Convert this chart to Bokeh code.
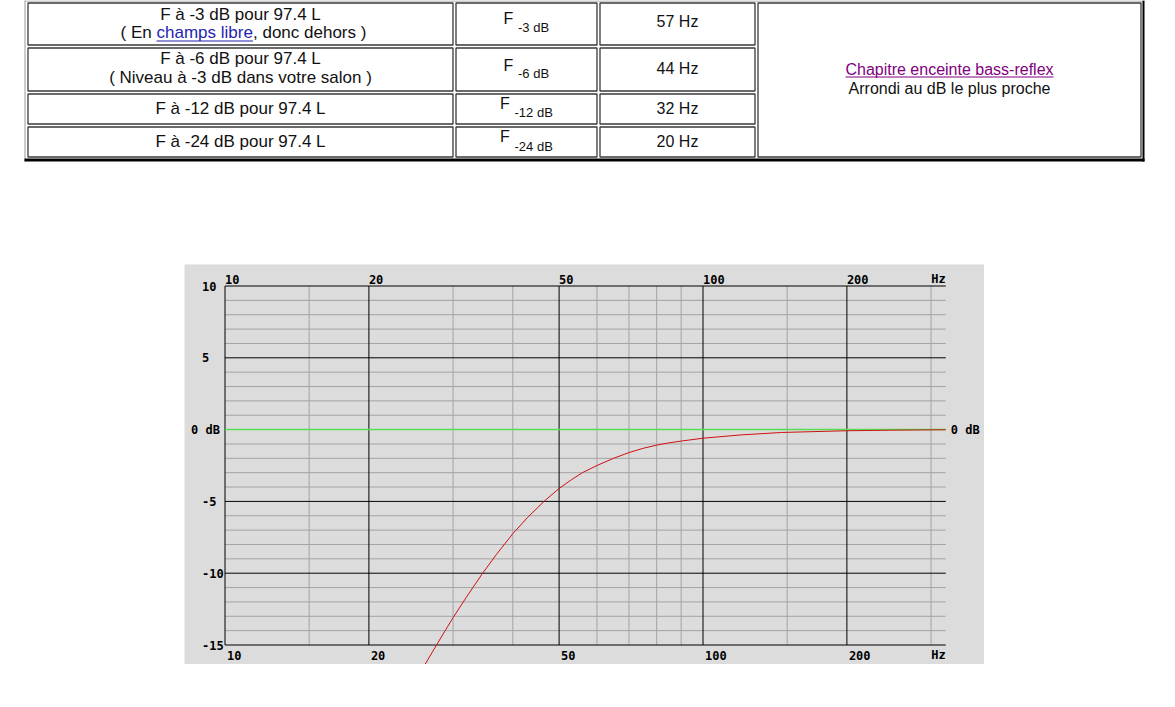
import math
from bokeh.plotting import figure
from bokeh.models import Range1d, Spacer
from bokeh.layouts import column, row
from bokeh.embed import file_html
from bokeh.resources import INLINE
from bokeh.core.properties import value

# ---------------- table data ----------------
volume_l = 97.4
levels_db = [-3, -6, -12, -24]
cutoff_hz = [57, 44, 32, 20]
note_r1 = ["( En ", "champs libre", ", donc dehors )"]
note_r2 = "( Niveau à -3 dB dans votre salon )"
link_chapter = "Chapitre enceinte bass-reflex"
note_round = "Arrondi au dB le plus proche"

# ---------------- chart data ----------------
resp_freq = [26.0, 27.7, 29.0, 30.0, 32.0, 34.6, 37.0, 40.0, 43.0, 46.7, 50.0, 53.0,
             56.0, 60.0, 65.0, 70.0, 75.0, 80.0, 85.0, 90.0, 100.0, 120.0, 146.0, 200.0,
             250.0, 322.0]
resp_db = [-16.55, -15.0, -13.9, -13.1, -11.66, -10.0, -8.68, -7.25, -6.1, -4.94, -4.1, -3.5,
           -2.99, -2.5, -2.0, -1.6, -1.3, -1.08, -0.92, -0.8, -0.6, -0.37, -0.2, -0.08,
           -0.04, -0.01]
freq_major = [10, 20, 50, 100, 200]
freq_minor = [15, 30, 40, 60, 70, 80, 90, 150, 300]
freq_labels = ["10", "20", "50", "100", "200"]
db_major = [10, 5, -5, -10, -15]
db_minor = [9, 8, 7, 6, 4, 3, 2, 1, -1, -2, -3, -4, -6, -7, -8, -9, -11, -12, -13, -14]
db_label_vals = [10, 5, -5, -10, -15]
db_labels = ["10", "5", "-5", "-10", "-15"]
FREQ_MIN, FREQ_MAX = 10, 322
DB_MIN, DB_MAX = -15, 10

# ================= table figure =================
T_W, T_H = 1160, 164
tp = figure(width=T_W, height=T_H, x_range=Range1d(0, T_W), y_range=Range1d(T_H, 0),
            output_backend="svg", toolbar_location=None, x_axis_location=None,
            y_axis_location=None, min_border=0, outline_line_color=None)
tp.grid.visible = False
tp.background_fill_color = "white"
tp.border_fill_color = "white"

# outer border
tp.segment(x0=[24.5], y0=[0], x1=[24.5], y1=[161], line_color="#9a9a9a", line_width=1)
tp.segment(x0=[24], y0=[0.5], x1=[1144], y1=[0.5], line_color="#9a9a9a", line_width=1)
tp.segment(x0=[1143], y0=[0], x1=[1143], y1=[161], line_color="#000000", line_width=2)
tp.segment(x0=[24], y0=[159.5], x1=[1144], y1=[159.5], line_color="#000000", line_width=3)

cols_x = [(27, 453), (455, 597), (599, 755)]
rows_y = [(2, 45), (47, 91), (93, 124), (126, 157)]
ql, qr, qt, qb = [], [], [], []
for (x0, x1) in cols_x:
    for (y0, y1) in rows_y:
        ql.append(x0 + 0.5); qr.append(x1 - 0.5); qt.append(y0 + 0.5); qb.append(y1 - 0.5)
ql.append(757.5); qr.append(1140.5); qt.append(2.5); qb.append(156.5)
tp.quad(left=ql, right=qr, top=qt, bottom=qb, fill_color=None,
        line_color="#3a3a3a", line_width=1.3)

SANS = value("Liberation Sans")
INK = "#111111"
col1_l1 = [f"F à {lv} dB pour {volume_l} L" for lv in levels_db]
tp.text(x=[240] * 4, y=[14, 58, 108, 141], text=col1_l1, text_font=SANS,
        text_font_size="17px", text_align="center", text_baseline="alphabetic",
        text_color=INK)
# row 1, second line with link
tp.text(x=[156], y=[32], text=[note_r1[0]], text_font=SANS, text_font_size="17px",
        text_align="right", text_baseline="alphabetic", text_color=INK)
tp.text(x=[156], y=[32], text=[note_r1[1]], text_font=SANS, text_font_size="17px",
        text_align="left", text_baseline="alphabetic", text_color="#1f1fb0")
tp.segment(x0=[156], y0=[40.5], x1=[252.5], y1=[40.5], line_color="#1f1fb0", line_width=1)
tp.text(x=[252.5], y=[32], text=[note_r1[2]], text_font=SANS, text_font_size="17px",
        text_align="left", text_baseline="alphabetic", text_color=INK)
tp.text(x=[240], y=[77], text=[note_r2], text_font=SANS, text_font_size="17px",
        text_align="center", text_baseline="alphabetic", text_color=INK)

# column 2: F with subscript
tp.text(x=[503, 503, 499.5, 499.5], y=[18, 65, 103, 136], text=["F"] * 4, text_font=SANS,
        text_font_size="16px", text_align="left", text_baseline="alphabetic",
        text_color=INK)
tp.text(x=[517.5, 517.5, 514, 514], y=[27, 73, 112, 146],
        text=[f"{lv} dB" for lv in levels_db], text_font=SANS, text_font_size="13px",
        text_align="left", text_baseline="alphabetic", text_color=INK)

# column 3
tp.text(x=[677] * 4, y=[21, 68, 108, 141], text=[f"{f} Hz" for f in cutoff_hz],
        text_font=SANS, text_font_size="16px", text_align="center",
        text_baseline="alphabetic", text_color=INK)

# column 4
tp.text(x=[949], y=[69], text=[link_chapter], text_font=SANS, text_font_size="16px",
        text_align="center", text_baseline="alphabetic", text_color="#800080")
tp.segment(x0=[845], y0=[76.5], x1=[1053], y1=[76.5], line_color="#800080", line_width=1)
tp.text(x=[949], y=[88], text=[note_round], text_font=SANS, text_font_size="16px",
        text_align="center", text_baseline="alphabetic", text_color=INK)

# ================= chart figure =================
C_W, C_H = 800, 400
PX_DEC = 478.0
PX_DB = 14.36
X10 = 40.5
Y10 = 21.5
f_lo = FREQ_MIN * 10 ** (-X10 / PX_DEC)
f_hi = FREQ_MIN * 10 ** ((C_W - X10) / PX_DEC)
d_hi = DB_MAX + Y10 / PX_DB
d_lo = d_hi - C_H / PX_DB

cp = figure(width=C_W, height=C_H, x_axis_type="log", x_range=Range1d(f_lo, f_hi),
            y_range=Range1d(d_lo, d_hi), output_backend="svg", toolbar_location=None,
            x_axis_location=None, y_axis_location=None, min_border=0,
            outline_line_color=None)
cp.grid.visible = False
cp.background_fill_color = "#dcdcdc"
cp.border_fill_color = "#dcdcdc"

GRAY = "#a3a3a3"
cp.segment(x0=freq_minor, y0=[DB_MIN] * len(freq_minor), x1=freq_minor,
           y1=[DB_MAX] * len(freq_minor), line_color=GRAY, line_width=1)
cp.segment(x0=[FREQ_MIN] * len(db_minor), y0=db_minor, x1=[FREQ_MAX] * len(db_minor),
           y1=db_minor, line_color=GRAY, line_width=1)
cp.segment(x0=[FREQ_MIN] * len(db_major), y0=db_major, x1=[FREQ_MAX] * len(db_major),
           y1=db_major, line_color="black", line_width=1)
cp.segment(x0=freq_major, y0=[DB_MIN] * len(freq_major), x1=freq_major,
           y1=[DB_MAX] * len(freq_major), line_color="black", line_width=1)
cp.line(x=[FREQ_MIN, FREQ_MAX], y=[0, 0], line_color="#55dd55", line_width=1.5)
cp.line(x=resp_freq, y=resp_db, line_color="#d01010", line_width=1)

MONO = value("DejaVu Sans Mono")
lab = dict(text_font=MONO, text_font_size="12px", text_font_style="bold",
           text_color="black", text_baseline="alphabetic")
# left dB labels
cp.text(x=[FREQ_MIN] * len(db_labels), y=db_label_vals, text=db_labels,
        text_align="left", x_offset=-23, y_offset=0, **lab)
cp.text(x=[FREQ_MIN], y=[0], text=["0 dB"], text_align="left", x_offset=-34, y_offset=0, **lab)
cp.text(x=[FREQ_MAX], y=[0], text=["0 dB"], text_align="left", x_offset=5, y_offset=0, **lab)
# top / bottom frequency labels
cp.text(x=freq_major, y=[DB_MAX] * len(freq_major), text=freq_labels, text_align="left",
        x_offset=0, y_offset=-7, **lab)
cp.text(x=freq_major, y=[DB_MIN] * len(freq_major), text=freq_labels, text_align="left",
        x_offset=2, y_offset=10, **lab)
cp.text(x=[FREQ_MAX], y=[DB_MAX], text=["Hz"], text_align="right", x_offset=0,
        y_offset=-7, **lab)
cp.text(x=[FREQ_MAX], y=[DB_MIN], text=["Hz"], text_align="right", x_offset=0,
        y_offset=10, **lab)

layout = column(tp, Spacer(width=10, height=264 - T_H),
                row(Spacer(width=184, height=C_H), cp))

open("out.html", "w").write(file_html(layout, INLINE, title="Réponse bass-reflex"))
